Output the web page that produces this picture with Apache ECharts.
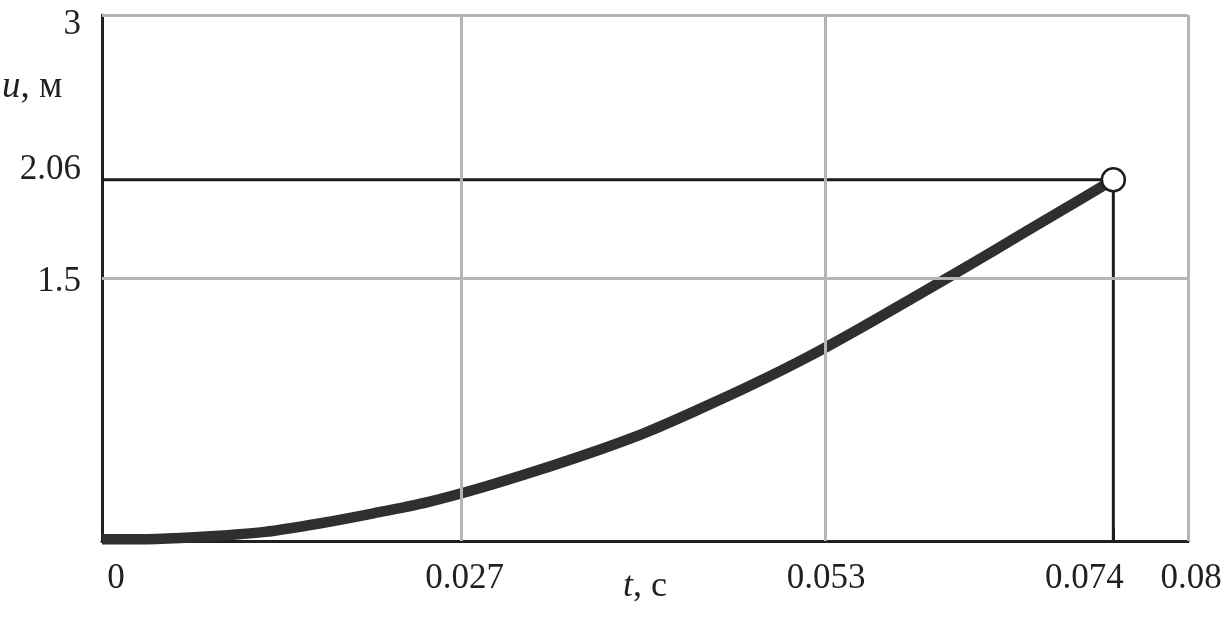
<!DOCTYPE html>
<html>
<head>
<meta charset="utf-8">
<script src="https://cdn.jsdelivr.net/npm/echarts@6/dist/echarts.min.js"></script>
<style>
html,body{margin:0;padding:0;background:#fff;}
#chart{width:1224px;height:619px;}
</style>
</head>
<body>
<div id="chart"></div>
<script>
// Data
const tValues = [0, 0.004, 0.008, 0.012, 0.016, 0.020, 0.024, 0.028, 0.032, 0.036, 0.040, 0.044, 0.048, 0.052, 0.056, 0.060, 0.064, 0.068, 0.072, 0.0745];
const uValues = [0.01, 0.012, 0.027, 0.052, 0.100, 0.158, 0.222, 0.305, 0.400, 0.503, 0.617, 0.752, 0.895, 1.050, 1.220, 1.398, 1.578, 1.762, 1.945, 2.06];
const endPoint = [0.0745, 2.06];
const xTickValues = [0, 0.0265, 0.0533, 0.0745, 0.08];
const xTickLabels = ['0', '0.027', '0.053', '0.074', '0.08'];
const yTickValues = [1.5, 2.06, 3];
const yTickLabels = ['1.5', '2.06', '3'];
const xGridValues = [0.0265, 0.0533, 0.08];
const yGridValues = [1.5, 3];

const FONT = "'Liberation Serif', 'DejaVu Serif', serif";
const TXT = '#231f20';
const FS = 35;

// per-label shifts (styling only): horizontal padding for x labels,
// vertical spacer (px, + = down) for y labels
const xLabelPad = [[0,0,0,28],[0,0,0,6],[0,0,0,1],[0,58,0,0],[0,0,0,6]];
const yLabelShift = [4, -10, 10];

const xRich = {}, yRich = {t: {fontFamily: FONT, fontSize: FS, color: TXT, lineHeight: FS}};
xTickLabels.forEach((s, i) => { xRich['x' + i] = {fontFamily: FONT, fontSize: FS, color: TXT, padding: xLabelPad[i]}; });
yLabelShift.forEach((s, i) => { yRich['s' + i] = {fontSize: 1, lineHeight: Math.abs(s) * 2, color: 'rgba(0,0,0,0)'}; });

const curve = tValues.map((t, i) => [t, uValues[i]]);

const chart = echarts.init(document.getElementById('chart'), null, {renderer: 'canvas'});
chart.setOption({
  animation: false,
  backgroundColor: '#ffffff',
  grid: {left: 102, right: 36, top: 15, bottom: 78, containLabel: false, outerBoundsMode: 'none'},
  xAxis: {
    type: 'value', min: 0, max: 0.08,
    name: '{i|t}, с', nameLocation: 'middle', nameGap: 28, nameMoveOverlap: false,
    nameTextStyle: {fontFamily: FONT, fontSize: 36, color: TXT,
      rich: {i: {fontFamily: FONT, fontSize: 36, fontStyle: 'italic', color: TXT}}},
    axisLine: {show: true, onZero: false, lineStyle: {color: '#231f20', width: 3}},
    axisTick: {show: true, inside: true, length: 13, customValues: xTickValues, lineStyle: {color: '#231f20', width: 2}},
    axisLabel: {
      show: true, margin: 20, customValues: xTickValues,
      formatter: function (v) { const i = xTickValues.indexOf(v); return i < 0 ? '' : '{x' + i + '|' + xTickLabels[i] + '}'; },
      rich: xRich
    },
    splitLine: {show: false}
  },
  yAxis: {
    type: 'value', min: 0, max: 3,
    axisLine: {show: true, onZero: false, lineStyle: {color: '#231f20', width: 3}},
    axisTick: {show: true, inside: true, length: 13, customValues: yTickValues, lineStyle: {color: '#231f20', width: 2}},
    axisLabel: {
      show: true, margin: 21, customValues: yTickValues,
      formatter: function (v) {
        const i = yTickValues.indexOf(v);
        if (i < 0) return '';
        const txt = '{t|' + yTickLabels[i] + '}';
        const sp = '{s' + i + '| }';
        return yLabelShift[i] > 0 ? sp + '\n' + txt : txt + '\n' + sp;
      },
      rich: yRich
    },
    splitLine: {show: false}
  },
  graphic: [{
    type: 'text', left: 2, top: 69, z: 10,
    style: {
      text: '{i|u}, м',
      fontFamily: FONT, fontSize: 37, fill: TXT,
      rich: {i: {fontFamily: FONT, fontSize: 37, fontStyle: 'italic', fill: TXT}}
    }
  }],
  series: [
    {
      type: 'line', data: [], silent: true, z: 1,
      markLine: {
        silent: true, symbol: 'none', animation: false, precision: 6,
        label: {show: false},
        lineStyle: {color: '#b5b5b5', width: 3, type: 'solid'},
        data: xGridValues.map(v => ({xAxis: v})).concat(yGridValues.map(v => ({yAxis: v})))
      }
    },
    {
      type: 'line', silent: true, z: 3,
      data: [[0, endPoint[1]], [endPoint[0], endPoint[1]], [endPoint[0], 0]],
      showSymbol: false, symbol: 'none',
      lineStyle: {color: '#1e1c1d', width: 3}
    },
    {
      type: 'line', silent: true, z: 4,
      data: curve, smooth: 0.3, showSymbol: false, symbol: 'none',
      lineStyle: {color: '#312e2f', width: 10.5, join: 'round', cap: 'butt'}
    },
    {
      type: 'scatter', silent: true, z: 6,
      data: [endPoint], symbol: 'circle', symbolSize: 23,
      itemStyle: {color: '#ffffff', borderColor: '#1e1c1d', borderWidth: 2.5, opacity: 1}
    }
  ]
});
</script>
</body>
</html>
